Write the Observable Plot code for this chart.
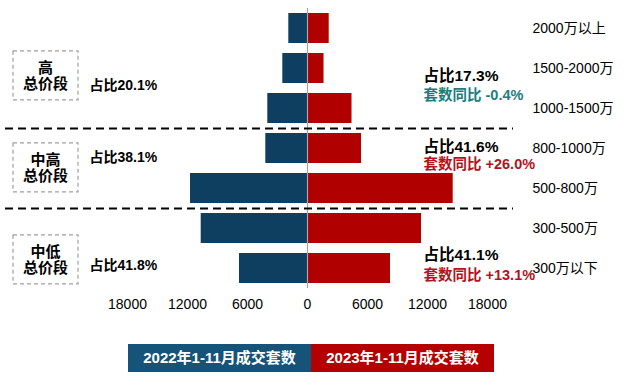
<!DOCTYPE html>
<html>
<head>
<meta charset="utf-8">
<script src="https://cdn.jsdelivr.net/npm/d3@7"></script>
<script src="https://cdn.jsdelivr.net/npm/@observablehq/plot@0.6"></script>
<style>
  html, body { margin: 0; padding: 0; background: #fff; }
  body { width: 626px; height: 386px; overflow: hidden; font-family: "Liberation Sans", Arial, "Noto Sans CJK SC", sans-serif; }
  #legend { display: flex; margin: 4px 0 0 128px; height: 28px; }
  #legend div { width: 183px; height: 28px; line-height: 28px; color: #fff; font-weight: bold; font-size: 15px; text-align: center; }
</style>
</head>
<body>
<div id="chart"></div>
<div id="legend"></div>
<script>
// ---- data ----
const categories = ["2000万以上", "1500-2000万", "1000-1500万", "800-1000万", "500-800万", "300-500万", "300万以下"];
const sales2022 = [1870, 2470, 3970, 4170, 11700, 10630, 6800];
const sales2023 = [2170, 1650, 4450, 5400, 14570, 11400, 8300];
const seriesNames = ["2022年1-11月成交套数", "2023年1-11月成交套数"];
const xTicks = [-18000, -12000, -6000, 0, 6000, 12000, 18000];
const groupLabels = ["高\n总价段", "中高\n总价段", "中低\n总价段"];
const share2022 = ["占比20.1%", "占比38.1%", "占比41.8%"];
const share2023 = ["占比17.3%", "占比41.6%", "占比41.1%"];
const yoyText = ["套数同比 -0.4%", "套数同比 +26.0%", "套数同比 +13.1%"];
const yoyValue = [-0.4, 26.0, 13.1];
const groupBoundaries = ["800-1000万", "300-500万"];

// ---- styles ----
const BLUE = "#0e3e60", RED = "#b00000";
const LEG_BLUE = "#165378", LEG_RED = "#b40000";
const TEAL = "#1b7d80", TXT_RED = "#b5121b";
const FONT = "'Liberation Sans', Arial, 'Noto Sans CJK SC', sans-serif";

const rows = categories.map((c, i) => ({cat: c, v22: sales2022[i], v23: sales2023[i]}));

// layout anchors per group: anchor category and vertical offsets
const groupAnchor = ["1500-2000万", "800-1000万", "300万以下"];
const dyBox = [7, 19, -9];
const dyShareL = [17, 9, -3];
const dyShareR = [8, -1, -13];
const dyYoy = [27, 16, 7];

const groupMarks = [];
groupLabels.forEach((g, i) => {
  groupMarks.push(
    Plot.text([g], {y: () => groupAnchor[i], text: d => d, frameAnchor: "left", dx: -82, dy: dyBox[i],
      textAnchor: "middle", fontSize: 15, fontWeight: "bold", lineHeight: 1.1, fill: "#000"}),
    Plot.text([share2022[i]], {y: () => groupAnchor[i], text: d => d, frameAnchor: "left", dx: -38, dy: dyShareL[i],
      textAnchor: "start", fontSize: 14, fontWeight: "bold", fill: "#000"}),
    Plot.text([share2023[i]], {y: () => groupAnchor[i], text: d => d, frameAnchor: "right", dx: -64, dy: dyShareR[i],
      textAnchor: "start", fontSize: 15.5, fontWeight: "bold", fill: "#000"}),
    Plot.text([yoyText[i]], {y: () => groupAnchor[i], text: d => d, frameAnchor: "right", dx: -64, dy: dyYoy[i],
      textAnchor: "start", fontSize: 14.5, fontWeight: "bold", fill: yoyValue[i] < 0 ? TEAL : TXT_RED})
  );
});

const chart = Plot.plot({
  width: 626,
  height: 340,
  marginTop: 13,
  marginBottom: 57,
  marginLeft: 127,
  marginRight: 139,
  style: {fontFamily: FONT, background: "#fff", color: "#000"},
  x: {domain: [-18000, 18000], axis: null, label: null},
  y: {type: "band", domain: categories, paddingInner: 0.25, paddingOuter: 0, axis: null, label: null},
  marks: [
    Plot.barX(rows, {y: "cat", x: d => -d.v22, fill: BLUE}),
    Plot.barX(rows, {y: "cat", x: "v23", fill: RED}),
    Plot.ruleX([0], {stroke: "#a6a6a6", strokeWidth: 1.2, insetTop: -5, insetBottom: -5}),
    Plot.ruleY(groupBoundaries, {y: d => d, dy: -20, stroke: "#000", strokeWidth: 2, strokeDasharray: "8,5",
      insetLeft: -122, insetRight: -26}),
    Plot.axisX({ticks: xTicks, tickSize: 0, tickPadding: 16, label: null, tickFormat: d => String(Math.abs(d)),
      fontSize: 14, fill: "#000"}),
    Plot.text(categories, {y: d => d, text: d => d, frameAnchor: "right", dx: 45, textAnchor: "start",
      fontSize: 14, fill: "#000"}),
    ...groupMarks
  ]
});
document.getElementById("chart").appendChild(chart);

// dashed boxes around the group labels
const svg = d3.select(chart);
svg.selectAll("text").filter(function () { return this.textContent.includes("总价段"); }).each(function () {
  const b = this.getBBox();
  const cx = b.x + b.width / 2, cy = b.y + b.height / 2;
  const w = 65, h = 49;
  d3.select(this.parentNode).insert("rect", ":first-child")
    .attr("x", cx - w / 2).attr("y", cy - h / 2).attr("width", w).attr("height", h)
    .attr("transform", this.getAttribute("transform"))
    .attr("fill", "none").attr("stroke", "#a0a0a0").attr("stroke-width", 1.2).attr("stroke-dasharray", "4,3");
});

// legend
const leg = d3.select("#legend");
seriesNames.forEach((s, i) => {
  leg.append("div").style("background", i === 0 ? LEG_BLUE : LEG_RED).text(s);
});
</script>
</body>
</html>
